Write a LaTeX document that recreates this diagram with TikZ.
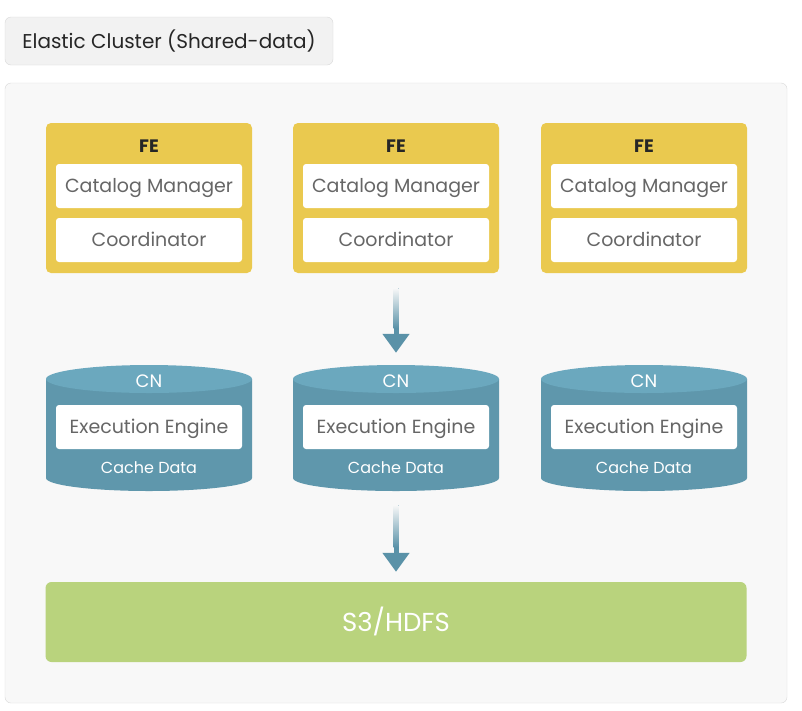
\documentclass[tikz,border=0pt]{standalone}
\usepackage{fontspec}
\setmainfont{Poppins}
\usetikzlibrary{arrows.meta}

\definecolor{feyellow}{HTML}{EAC94F}
\definecolor{cntop}{HTML}{6BA8BE}
\definecolor{cnbody}{HTML}{5F97AC}
\definecolor{s3green}{HTML}{B9D37D}
\definecolor{itemtext}{HTML}{666666}
\definecolor{flowblue}{HTML}{5A92A8}
\definecolor{clusterfill}{HTML}{F8F8F8}
\definecolor{clusterline}{HTML}{D9D9D9}
\definecolor{titlefill}{HTML}{F2F2F2}

\begin{document}
\begin{tikzpicture}[x=1pt,y=-1pt,
  every node/.style={inner sep=0pt,text depth=0pt,text height=13.3pt,font=\fontsize{19}{22}\selectfont},
  titlebox/.style={fill=titlefill,draw=clusterline,rounded corners=6pt,minimum width=328pt,minimum height=48pt,text=black!85,text height=14pt,font=\fontsize{20}{24}\selectfont},
  cluster/.style={fill=clusterfill,draw=clusterline,rounded corners=6pt,minimum width=782pt,minimum height=620pt},
  febox/.style={fill=feyellow,rounded corners=5pt,minimum width=206pt,minimum height=150pt},
  itembox/.style={fill=white,rounded corners=3pt,minimum width=186pt,minimum height=44pt,text=itemtext},
  cnbox/.style={minimum width=206pt,minimum height=127pt},
  flow/.style={draw=flowblue,line width=5pt,-{Triangle[width=26pt,length=19pt]}}]
\useasboundingbox (0,0) rectangle (802,710);
\fill[white] (0,0) rectangle (802,710);

\node[titlebox] (title) at (169,41) {Elastic Cluster (Shared-data)};
\node[cluster] (cluster) at (396,393) {};

\foreach \i/\x in {1/149,2/396,3/644} {
  % frontend
  \node[febox] (fe\i) at (\x,198) {};
  \node[text=black!85,text height=12.6pt,font=\fontsize{18}{21}\selectfont\bfseries] (fename\i) at (\x,146) {FE};
  \node[itembox] (cat\i) at (\x,186) {Catalog Manager};
  \node[itembox] (coord\i) at (\x,240) {Coordinator};
  % compute node
  \fill[cnbody] (\x-103,379) -- (\x-103,478) arc[start angle=180,end angle=360,x radius=103pt,y radius=13pt] -- (\x+103,379) -- cycle;
  \fill[cntop] (\x,379) ellipse [x radius=103pt, y radius=14pt];
  \node[cnbox] (cn\i) at (\x,427.5) {};
  \node[text=white,text height=12.6pt,font=\fontsize{18}{21}\selectfont] (cnname\i) at (\x,381) {CN};
  \node[itembox] (exec\i) at (\x,427) {Execution Engine};
  \node[text=white,text height=11.2pt,font=\fontsize{16}{19}\selectfont] (cache\i) at (\x,468) {Cache Data};
}

\node[fill=s3green,rounded corners=6pt,minimum width=701pt,minimum height=80pt,text=white,text height=18.2pt,font=\fontsize{26}{30}\selectfont] (s3) at (396,622) {S3/HDFS};

% arrows, shaft fades in from the top
\draw[flow,shorten <=15pt,shorten >=11pt] (fe2) -- (cn2);
\shade[top color=clusterfill,bottom color=flowblue] (393.5,288) rectangle (398.5,328);
\draw[flow,shorten <=14pt,shorten >=10pt] (cn2) -- (s3);
\shade[top color=clusterfill,bottom color=flowblue] (393.5,505) rectangle (398.5,547);
\end{tikzpicture}
\end{document}
